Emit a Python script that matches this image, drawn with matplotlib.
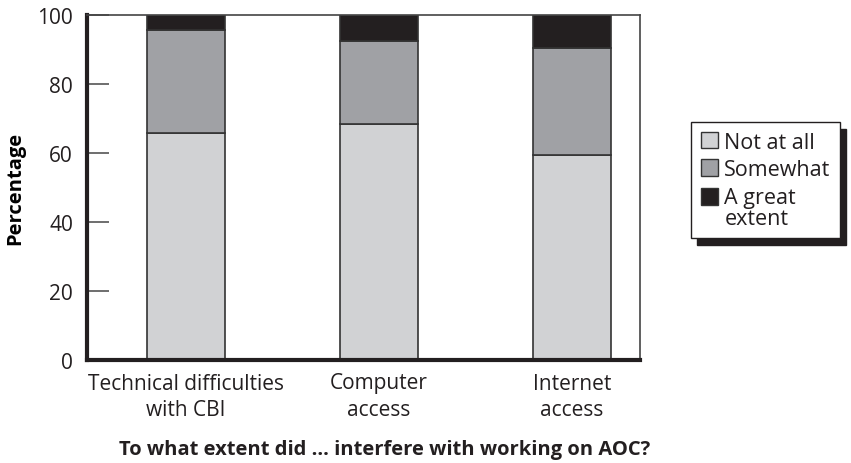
import matplotlib.pyplot as plt
import matplotlib.patches as mpatches
from matplotlib.legend_handler import HandlerPatch
import numpy as np

plt.rcParams['font.family'] = ['Open Sans', 'DejaVu Sans']

categories = ['Technical difficulties\nwith CBI', 'Computer\naccess', 'Internet\naccess']
not_at_all = [65.8, 68.4, 59.4]
somewhat = [29.9, 24.2, 31.0]
great_extent = [4.3, 7.4, 9.6]
series_labels = ['Not at all', 'Somewhat', 'A great\nextent']
colors = ['#d1d2d4', '#a0a1a5', '#231f20']

fig = plt.figure(figsize=(8.51, 4.64), dpi=100)
ax = fig.add_axes([87 / 851, 1 - 361 / 464, 553 / 851, 345 / 464])

x = np.arange(len(categories))
bottom = np.zeros(len(categories))
bars = []
for vals, lab, col in zip([not_at_all, somewhat, great_extent], series_labels, colors):
    b = ax.bar(x, vals, 0.4, bottom=bottom, color=col, edgecolor='#333333',
               linewidth=1.2, label=lab)
    bars.append(b)
    bottom += np.array(vals)

ax.set_xlim(-0.513, 2.352)
ax.set_ylim(0, 100)
ax.set_yticks([0, 20, 40, 60, 80, 100])
ax.set_xticks(x)
ax.set_xticklabels(categories, fontsize=15, color='#231f20', linespacing=1.36)
ax.tick_params(axis='y', direction='in', length=16, width=1.2, color='#555555',
               labelsize=15, labelcolor='#231f20', pad=10)
ax.tick_params(axis='x', length=0, pad=9)
ax.tick_params(axis='y', which='both', right=False)

ax.spines['left'].set_linewidth(3)
ax.spines['bottom'].set_linewidth(3)
ax.spines['left'].set_color('#231f20')
ax.spines['bottom'].set_color('#231f20')
ax.spines['top'].set_linewidth(1.2)
ax.spines['right'].set_linewidth(1.2)
ax.spines['top'].set_color('#444444')
ax.spines['right'].set_color('#444444')

ax.set_ylabel('Percentage', fontsize=14.5, fontweight='bold', labelpad=9)
fig.text(0.452, 1 - 450 / 464, 'To what extent did ... interfere with working on AOC?',
         fontsize=14.5, fontweight='bold', ha='center', va='center', color='#231f20')


# square for the two-line entry sits next to the first line
def top_square(legend, orig_handle, xdescent, ydescent, width, height, fontsize):
    return mpatches.Rectangle((-xdescent, -ydescent + 0.55 * fontsize), width, height)


handles = [mpatches.Patch(facecolor=c, edgecolor='#333333', linewidth=1.0) for c in colors]
leg = ax.legend(handles, series_labels, loc='upper left',
                bbox_to_anchor=(691 / 851, 1 - 123 / 464),
                bbox_transform=fig.transFigure, fontsize=15.5, frameon=True,
                fancybox=False, edgecolor='#231f20', framealpha=1,
                handlelength=0.8, handleheight=0.8, handletextpad=0.3,
                labelspacing=0.3, borderpad=0.45, borderaxespad=0,
                handler_map={handles[2]: HandlerPatch(patch_func=top_square)},
                shadow={'color': '#231f20', 'alpha': 1, 'ox': 4, 'oy': -5})
leg.get_frame().set_linewidth(1.0)
for t in leg.get_texts():
    t.set_color('#231f20')
    t.set_linespacing(1.0)

fig.savefig('out.png', dpi=100)
